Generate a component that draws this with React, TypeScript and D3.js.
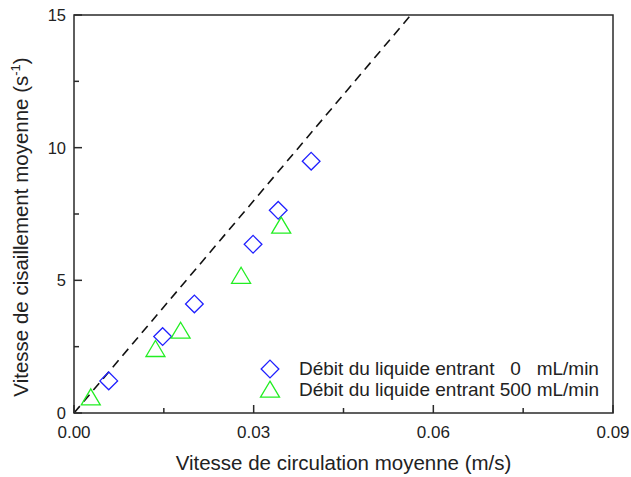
import React from "react";
import * as d3 from "d3";

const diamondX = [0.0058, 0.0148, 0.0201, 0.0299, 0.0341, 0.0396];
const diamondY = [1.21, 2.88, 4.11, 6.36, 7.64, 9.49];
const triangleX = [0.0028, 0.0136, 0.0178, 0.0279, 0.0346];
const triangleY = [0.58, 2.4, 3.09, 5.16, 7.05];
const lineSlope = 266.7;
const xTicks = [0, 0.03, 0.06, 0.09];
const xMinor = [0.015, 0.045, 0.075];
const yTicks = [0, 5, 10, 15];
const yMinor = [2.5, 7.5, 12.5];
const legendLabels = ["Débit du liquide entrant   0   mL/min", "Débit du liquide entrant 500 mL/min"];

const W = 631, H = 477;
const L = 74, R = 613, T = 15, B = 413;
const FONT = "'Liberation Sans', Arial, sans-serif";
const AX = "#2a2a2a";

export default function App() {
  const x = d3.scaleLinear().domain([0, 0.09]).range([L, R]);
  const y = d3.scaleLinear().domain([0, 15]).range([B, T]);
  const diamond = d3.symbol().type(d3.symbolDiamond2).size(200)();
  const tri = (cx: number, cy: number) => {
    const hw = 9.5, h = 16;
    return `M${cx},${cy - h * 0.55}L${cx + hw},${cy + h * 0.45}L${cx - hw},${cy + h * 0.45}Z`;
  };
  const xEnd = 15 / lineSlope;
  const lineGen = d3.line<[number, number]>().x(d => x(d[0])).y(d => y(d[1]));
  return (
    <svg width={W} height={H} style={{ position: "absolute", left: 0, top: 0, background: "#fff" }} fontFamily={FONT}>
      <rect x={0} y={0} width={W} height={H} fill="#fff" />
      {/* dashed line */}
      <path d={lineGen([[0, 0], [xEnd, lineSlope * xEnd]]) || ""} stroke="#111" strokeWidth={1.6} strokeDasharray="9,6" fill="none" />
      {/* axes frame */}
      <rect x={L} y={T} width={R - L} height={B - T} fill="none" stroke={AX} strokeWidth={1.5} />
      {xTicks.map(t => <line key={"xt" + t} x1={x(t)} x2={x(t)} y1={B} y2={B - 8} stroke={AX} strokeWidth={1.5} />)}
      {xMinor.map(t => <line key={"xm" + t} x1={x(t)} x2={x(t)} y1={B} y2={B - 5} stroke={AX} strokeWidth={1.5} />)}
      {yTicks.map(t => <line key={"yt" + t} x1={L} x2={L + 8} y1={y(t)} y2={y(t)} stroke={AX} strokeWidth={1.5} />)}
      {yMinor.map(t => <line key={"ym" + t} x1={L} x2={L + 5} y1={y(t)} y2={y(t)} stroke={AX} strokeWidth={1.5} />)}
      {xTicks.map(t => (
        <text key={"xl" + t} x={x(t)} y={438} fontSize={17} textAnchor="middle" fill="#222">{t.toFixed(2)}</text>
      ))}
      {yTicks.map(t => (
        <text key={"yl" + t} x={66} y={y(t) + 6} fontSize={16.5} textAnchor="end" fill="#222">{t}</text>
      ))}
      <text x={(L + R) / 2} y={470} fontSize={20.5} textAnchor="middle" fill="#222">Vitesse de circulation moyenne (m/s)</text>
      <text transform={`translate(28,227) rotate(-90)`} fontSize={20.5} textAnchor="middle" fill="#222">
        Vitesse de cisaillement moyenne (s<tspan dy={-8} fontSize={13}>-1</tspan><tspan dy={8}>)</tspan>
      </text>
      {/* data */}
      {diamondX.map((v, i) => (
        <path key={"d" + i} d={diamond} transform={`translate(${x(v)},${y(diamondY[i])})`} fill="none" stroke="#2020ff" strokeWidth={1.3} />
      ))}
      {triangleX.map((v, i) => (
        <path key={"t" + i} d={tri(x(v), y(triangleY[i]))} fill="none" stroke="#22ee22" strokeWidth={1.3} />
      ))}
      {/* legend */}
      <path d={diamond} transform={`translate(270,369)`} fill="none" stroke="#2020ff" strokeWidth={1.3} />
      <path d={tri(270, 390)} fill="none" stroke="#22ee22" strokeWidth={1.3} />
      <text x={299} y={374.5} fontSize={19} fill="#222" style={{ whiteSpace: "pre" }} xmlSpace="preserve">{legendLabels[0]}</text>
      <text x={299} y={395.5} fontSize={19} fill="#222" style={{ whiteSpace: "pre" }} xmlSpace="preserve">{legendLabels[1]}</text>
    </svg>
  );
}
